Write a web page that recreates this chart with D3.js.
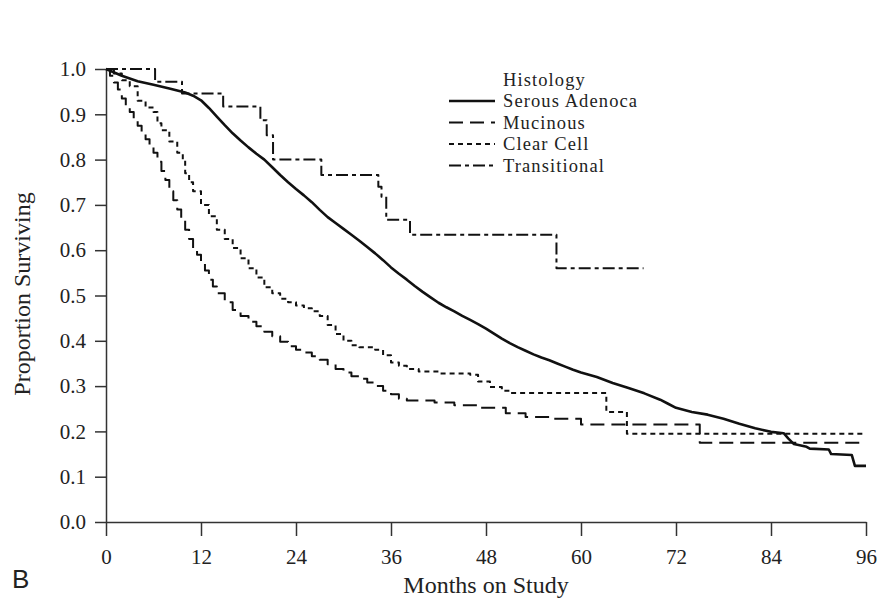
<!DOCTYPE html>
<html><head><meta charset="utf-8">
<script src="https://cdn.jsdelivr.net/npm/d3@7"></script>
<style>body{margin:0;background:#fff}svg{display:block}</style>
</head><body>
<script>
const xTicks = [0,12,24,36,48,60,72,84,96];
const yTicks = [0,0.1,0.2,0.3,0.4,0.5,0.6,0.7,0.8,0.9,1.0];
const seriesNames = ["Serous Adenoca","Mucinous","Clear Cell","Transitional"];
const serous = [[0,1.000],[2,0.985],[4,0.973],[6,0.965],[8,0.957],[10,0.948],[11,0.941],[12,0.931],[13,0.914],[14,0.895],[15,0.876],[16,0.858],[17,0.842],[18,0.827],[19,0.813],[20,0.800],[21,0.783],[22,0.766],[23,0.750],[24,0.735],[25,0.721],[26,0.706],[27,0.689],[28,0.673],[29,0.660],[30,0.647],[31,0.634],[32,0.621],[33,0.607],[34,0.593],[35,0.578],[36,0.562],[37,0.548],[38,0.535],[39,0.521],[40,0.508],[41,0.496],[42,0.484],[43,0.474],[44,0.465],[45,0.455],[46,0.446],[47,0.437],[48,0.427],[49,0.416],[50,0.405],[51,0.395],[52,0.386],[53,0.378],[54,0.370],[55,0.363],[56,0.357],[57,0.350],[58,0.343],[59,0.336],[60,0.330],[62,0.320],[64,0.307],[66,0.296],[68,0.284],[70,0.270],[71,0.261],[72,0.252],[74,0.243],[76,0.237],[78,0.228],[80,0.217],[82,0.207],[84,0.199],[85.6,0.196],[86.2,0.184],[86.9,0.172],[88.5,0.166],[88.9,0.162],[91.3,0.160],[91.6,0.150],[94.2,0.148],[94.6,0.124],[96,0.124]];
const mucinous = [[0,1.0],[0.5,0.985],[1,0.97],[1.5,0.955],[2,0.935],[2.5,0.92],[3,0.905],[3.5,0.89],[4,0.875],[4.5,0.86],[5,0.845],[5.5,0.83],[6,0.815],[6.5,0.795],[7,0.775],[7.5,0.755],[8,0.73],[8.5,0.71],[9,0.69],[9.5,0.665],[10,0.645],[10.5,0.625],[11,0.605],[11.5,0.59],[12,0.575],[12.5,0.555],[13,0.535],[13.5,0.52],[14,0.505],[15,0.485],[16,0.468],[17,0.455],[18,0.442],[19,0.432],[20,0.42],[21,0.41],[22,0.398],[23,0.388],[24,0.38],[25,0.374],[26,0.366],[27,0.358],[28,0.348],[29,0.338],[30,0.33],[31,0.322],[32,0.316],[33,0.308],[34,0.3],[35,0.29],[36,0.282],[37,0.272],[38,0.268],[41.5,0.264],[44,0.258],[47,0.252],[50.5,0.24],[53,0.232],[56,0.228],[60,0.215],[75,0.175],[95.2,0.175]];
const clearCell = [[0,1.0],[1,0.99],[2,0.975],[3,0.962],[4,0.93],[5,0.915],[6,0.905],[6.5,0.88],[7,0.865],[8,0.84],[9,0.815],[9.7,0.8],[10,0.77],[10.5,0.75],[11,0.73],[12,0.7],[13,0.675],[14,0.645],[15,0.625],[16,0.605],[17,0.582],[18,0.56],[19,0.54],[20,0.518],[21,0.505],[22,0.493],[23,0.485],[24,0.478],[25,0.472],[26,0.465],[27,0.455],[28,0.435],[29,0.415],[30,0.4],[31,0.39],[32,0.386],[34,0.38],[35,0.368],[36,0.352],[37,0.345],[38,0.338],[39.5,0.332],[42,0.328],[46,0.325],[47,0.31],[48.5,0.298],[50,0.29],[51,0.285],[63.2,0.243],[65.8,0.195],[96,0.195]];
const transitional = [[0,1.0],[6.2,0.972],[9.6,0.946],[14.8,0.917],[19.5,0.887],[20.3,0.854],[21.1,0.80],[27.2,0.766],[34.4,0.74],[34.8,0.718],[35.4,0.667],[38.4,0.634],[56.9,0.56],[67.9,0.56]];

const W = 879, H = 600;
const svg = d3.select("body").append("svg").attr("width", W).attr("height", H);
const x = d3.scaleLinear().domain([0,96]).range([106,866]);
const y = d3.scaleLinear().domain([0,1]).range([522,69]);
const font = "'Liberation Serif','Times New Roman',serif";
const axisColor = "#333";

const xa = svg.append("g").attr("transform","translate(0,522)")
  .call(d3.axisBottom(x).tickValues(xTicks).tickSize(14).tickSizeOuter(0).tickPadding(13).tickFormat(d3.format("d")));
const ya = svg.append("g").attr("transform","translate(106,0)")
  .call(d3.axisLeft(y).tickValues(yTicks).tickSize(11).tickSizeOuter(0).tickPadding(9).tickFormat(d3.format(".1f")));
[xa,ya].forEach(a=>{
  a.selectAll("path,line").attr("stroke",axisColor).attr("stroke-width",1.5);
  a.selectAll("text").attr("font-family",font).attr("font-size",21).attr("fill","#222");
});

const stepLine = d3.line().x(d=>x(d[0])).y(d=>y(d[1])).curve(d3.curveStepAfter);
const smoothLine = d3.line().x(d=>x(d[0])).y(d=>y(d[1])).curve(d3.curveLinear);
const styles = [
  {data: serous, dash: null, w: 2.6, gen: smoothLine},
  {data: mucinous, dash: "14,7", w: 2, gen: stepLine},
  {data: clearCell, dash: "5,4", w: 2, gen: stepLine},
  {data: transitional, dash: "12,4,4,4", w: 2, gen: stepLine}
];
styles.forEach(s=>{
  svg.append("path").attr("d", s.gen(s.data)).attr("fill","none")
    .attr("stroke","#111").attr("stroke-width",s.w)
    .attr("stroke-linejoin","round")
    .attr("stroke-dasharray",s.dash);
});

// legend
const lg = svg.append("g");
const lgFont = 18.5, lgSpacing = 1.1;
lg.append("text").attr("x",503).attr("y",79.5).attr("dy","0.35em")
  .attr("font-family",font).attr("font-size",lgFont).attr("letter-spacing",lgSpacing).attr("fill","#222").text("Histology");
seriesNames.forEach((n,i)=>{
  const yy = 101 + i*21.5;
  lg.append("line").attr("x1",449).attr("x2",495).attr("y1",yy).attr("y2",yy)
    .attr("stroke","#111").attr("stroke-width",styles[i].w)
    .attr("stroke-dasharray",styles[i].dash);
  lg.append("text").attr("x",503).attr("y",yy).attr("dy","0.35em")
    .attr("font-family",font).attr("font-size",lgFont).attr("letter-spacing",lgSpacing).attr("fill","#222").text(n);
});

svg.append("text").attr("x",486).attr("y",593).attr("text-anchor","middle")
  .attr("font-family",font).attr("font-size",24).attr("fill","#222").text("Months on Study");
svg.append("text").attr("transform","translate(30,294) rotate(-90)").attr("text-anchor","middle")
  .attr("font-family",font).attr("font-size",24).attr("fill","#222").text("Proportion Surviving");
svg.append("text").attr("x",12).attr("y",588)
  .attr("font-family","'Liberation Sans',Arial,sans-serif").attr("font-size",26).attr("fill","#222").text("B");
</script>
</body></html>
